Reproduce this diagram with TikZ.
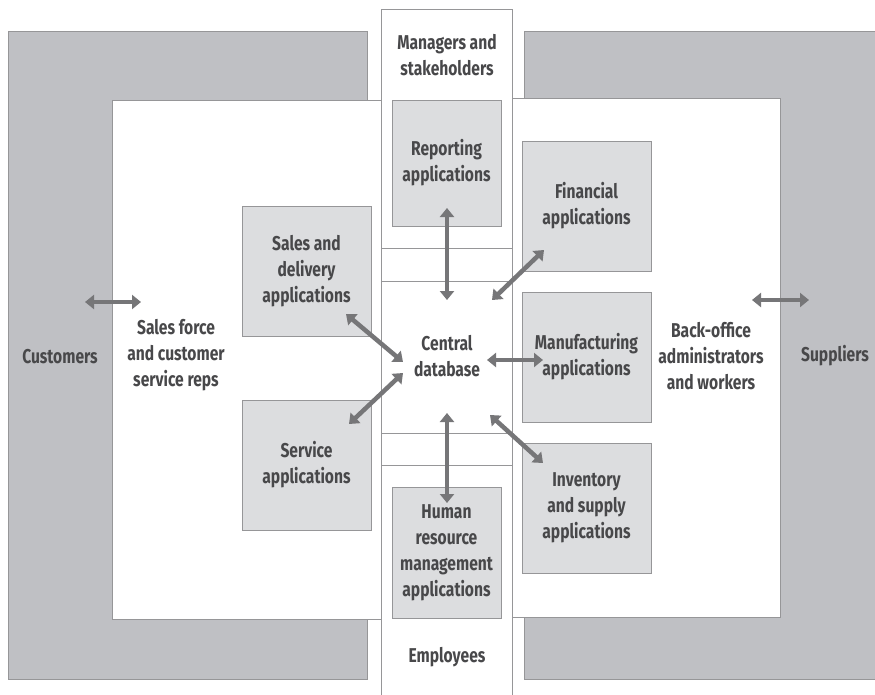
\documentclass[tikz,border=0pt]{standalone}
\usepackage{fontspec}
\setmainfont{Fira Sans}[FakeStretch=0.78]
\usetikzlibrary{arrows.meta}
\definecolor{outerg}{RGB}{191,192,196}
\definecolor{boxg}{RGB}{220,221,223}
\definecolor{edgeg}{RGB}{150,150,152}
\definecolor{arrg}{RGB}{118,118,120}
\definecolor{txtg}{RGB}{72,72,74}
\tikzset{
  lbl/.style={font=\bfseries\fontsize{20}{26}\selectfont, text=txtg, align=center, inner sep=0pt},
  appbox/.style={draw=edgeg, line width=1pt, fill=boxg, minimum width=129pt, minimum height=130pt, inner sep=0pt,
     font=\bfseries\fontsize{20}{26}\selectfont, text=txtg, align=center},
  midbox/.style={appbox, minimum width=109pt},
  link/.style={draw=arrg, line width=4.5pt, {Triangle[length=9pt,width=14pt]}-{Triangle[length=9pt,width=14pt]}},
  region/.style={draw=edgeg, line width=1pt},
}
\begin{document}
\begin{tikzpicture}[x=1pt,y=-1pt]
\useasboundingbox (0,0) rectangle (875,694);
% outer gray regions
\draw[region, fill=outerg] (8,31) rectangle (367,679);
\draw[region, fill=outerg] (524,31) rectangle (880,679);
% inner white regions
\draw[region, fill=white] (112,100) rectangle (381,619);
\draw[region, fill=white] (512,98) rectangle (780,617);
% centre column
\draw[region, fill=white] (381,700) -- (381,9) -- (512,9) -- (512,700);
\draw[region] (381,248) -- (512,248);
\draw[region] (381,281) -- (512,281);
\draw[region] (381,433) -- (512,433);
\draw[region] (381,465) -- (512,465);
% application boxes
\node[midbox, minimum height=126pt] (rep) at (446.5,163) {Reporting\\applications};
\node[midbox, minimum height=131pt] (hr) at (446.5,552.5) {Human\\resource\\management\\applications};
\node[appbox] (sales) at (306.5,271) {Sales and\\delivery\\applications};
\node[appbox] (serv) at (306.5,465) {Service\\applications};
\node[appbox] (fin) at (586.5,206) {Financial\\applications};
\node[appbox] (man) at (586.5,357) {Manufacturing\\applications};
\node[appbox] (inv) at (586.5,508) {Inventory\\and supply\\applications};
% labels
\node[lbl] (mgr) at (447,55) {Managers and\\stakeholders};
\node[lbl] (db) at (447,356) {Central\\database};
\node[lbl] (emp) at (447,657) {Employees};
\node[lbl] (cust) at (60,357) {Customers};
\node[lbl] (sf) at (176,355) {Sales force\\and customer\\service reps};
\node[lbl] (bo) at (711,356) {Back-office\\administrators\\and workers};
\node[lbl] (sup) at (835,356) {Suppliers};
% arrow end points
\coordinate (repA) at (447,208); \coordinate (repB) at (447,300);
\coordinate (hrA) at (447,413);  \coordinate (hrB) at (447,503);
\coordinate (finA) at (492,300); \coordinate (finB) at (544,250);
\coordinate (manA) at (487,360); \coordinate (manB) at (543,360);
\coordinate (invA) at (490,415); \coordinate (invB) at (543,463);
\coordinate (salA) at (346,314); \coordinate (salB) at (403,362);
\coordinate (srvA) at (349,424); \coordinate (srvB) at (403,373);
\coordinate (cusA) at (85,302);  \coordinate (cusB) at (141,302);
\coordinate (supA) at (752,300); \coordinate (supB) at (809,300);
% connectors
\draw[link] (repA) -- (repB);
\draw[link] (hrA) -- (hrB);
\draw[link] (finA) -- (finB);
\draw[link] (manA) -- (manB);
\draw[link] (invA) -- (invB);
\draw[link] (salA) -- (salB);
\draw[link] (srvA) -- (srvB);
\draw[link] (cusA) -- (cusB);
\draw[link] (supA) -- (supB);
\end{tikzpicture}
\end{document}
